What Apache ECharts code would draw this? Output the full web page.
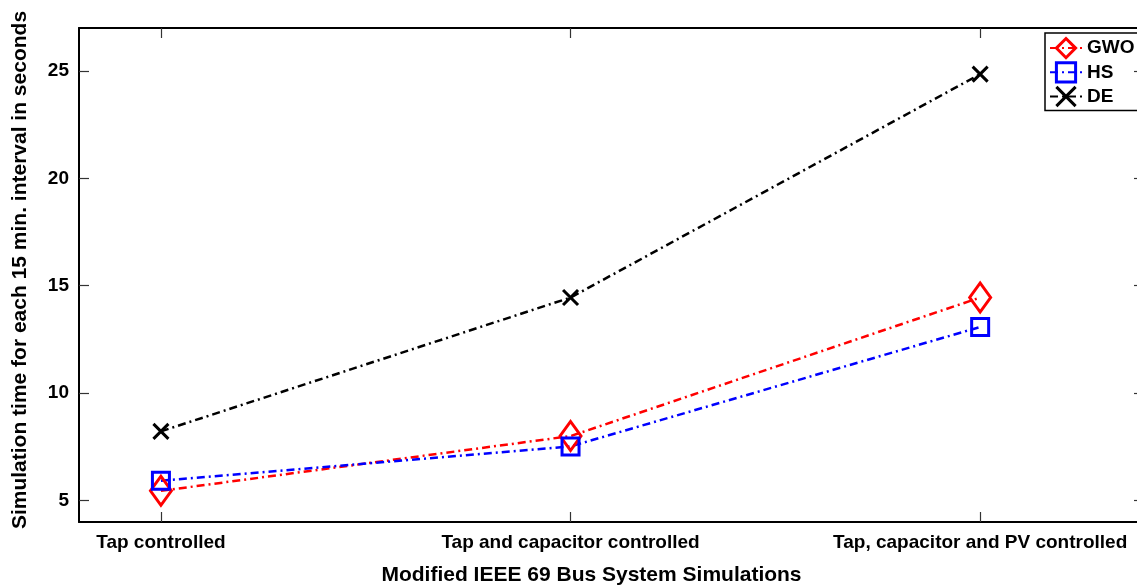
<!DOCTYPE html>
<html>
<head>
<meta charset="utf-8">
<script src="https://cdn.jsdelivr.net/npm/echarts@6/dist/echarts.min.js"></script>
<style>
html,body{margin:0;padding:0;background:#fff;}
#chart{width:1137px;height:586px;}
</style>
</head>
<body>
<div id="chart"></div>
<script>
const categories = ['Tap controlled', 'Tap and capacitor controlled', 'Tap, capacitor and PV controlled'];
const gwo = [5.45, 8.0, 14.45];
const hs = [5.92, 7.52, 13.08];
const de = [8.22, 14.45, 24.85];
const yTicks = [5, 10, 15, 20, 25];
const xPositions = [1, 2, 3];

const font = 'Liberation Sans, Arial, Helvetica, sans-serif';
function pts(arr){ return arr.map((v,i)=>[xPositions[i], v]); }

const chart = echarts.init(document.getElementById('chart'));
const dash = [8, 4, 2, 4];
chart.setOption({
  animation: false,
  backgroundColor: '#fff',
  grid: {left: 79, right: -7, top: 28, bottom: 64, outerBoundsMode: 'none', containLabel: false},
  xAxis: [{
    type: 'value', min: 0.8, max: 3.4, position: 'bottom',
    splitLine: {show: false},
    axisLine: {lineStyle: {color: '#000', width: 2}},
    axisTick: {inside: true, length: 10, customValues: xPositions, lineStyle: {color: '#333', width: 1.2}},
    axisLabel: {customValues: xPositions, formatter: v => categories[Math.round(v) - 1], color: '#000',
      fontFamily: font, fontWeight: 'bold', fontSize: 19, margin: 11},
    name: 'Modified IEEE 69 Bus System Simulations', nameLocation: 'middle', nameGap: 43,
    nameTextStyle: {color: '#000', fontFamily: font, fontWeight: 'bold', fontSize: 21, padding: [0, 40, 0, 0]}
  }, {
    type: 'value', min: 0.8, max: 3.4, position: 'top',
    splitLine: {show: false},
    axisLine: {lineStyle: {color: '#000', width: 2}},
    axisTick: {inside: true, length: 10, customValues: xPositions, lineStyle: {color: '#333', width: 1.2}},
    axisLabel: {show: false}
  }],
  yAxis: [{
    type: 'value', min: 4, max: 27, position: 'left',
    splitLine: {show: false},
    axisLine: {show: true, lineStyle: {color: '#000', width: 2}},
    axisTick: {show: true, inside: true, length: 10, customValues: yTicks, lineStyle: {color: '#333', width: 1.2}},
    axisLabel: {customValues: yTicks, color: '#000', fontFamily: font, fontWeight: 'bold', fontSize: 19, margin: 10},
    name: 'Simulation time for each 15 min. interval in seconds', nameLocation: 'middle', nameGap: 48,
    nameTextStyle: {color: '#000', fontFamily: font, fontWeight: 'bold', fontSize: 21, padding: [0, 0, 0, 10]}
  }, {
    type: 'value', min: 4, max: 27, position: 'right',
    splitLine: {show: false},
    axisLine: {show: true, lineStyle: {color: '#000', width: 2}},
    axisTick: {show: true, inside: true, length: 10, customValues: yTicks, lineStyle: {color: '#333', width: 1.2}},
    axisLabel: {show: false}
  }],
  legend: {
    left: 1045, top: 33, orient: 'vertical',
    borderColor: '#000', borderWidth: 1.5, padding: [4, 40, 3, 4], itemGap: 2,
    itemWidth: 32, itemHeight: 24, itemStyle: {borderWidth: 3},
    textStyle: {color: '#000', fontFamily: font, fontWeight: 'bold', fontSize: 19},
    data: ['GWO', 'HS', 'DE']
  },
  series: [{
    name: 'GWO', type: 'line', data: pts(gwo),
    symbol: 'diamond', symbolSize: [21, 29],
    lineStyle: {color: '#ff0000', width: 2.5, type: dash},
    itemStyle: {color: 'rgba(255,255,255,0)', borderColor: '#ff0000', borderWidth: 3}
  }, {
    name: 'HS', type: 'line', data: pts(hs),
    symbol: 'rect', symbolSize: 17,
    lineStyle: {color: '#0000ff', width: 2.5, type: dash},
    itemStyle: {color: 'rgba(255,255,255,0)', borderColor: '#0000ff', borderWidth: 3}
  }, {
    name: 'DE', type: 'line', data: pts(de),
    symbol: 'path://M0,0L10,10M10,0L0,10', symbolSize: 15,
    lineStyle: {color: '#000', width: 2.5, type: dash},
    itemStyle: {color: 'rgba(0,0,0,0)', borderColor: '#000', borderWidth: 3}
  }]
});
</script>
</body>
</html>
